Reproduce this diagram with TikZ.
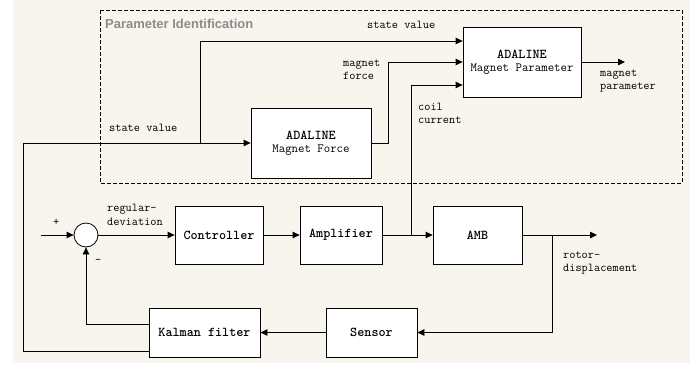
\documentclass[tikz,border=0pt]{standalone}
\usepackage{fontspec}
\newfontfamily\titlefont{Liberation Sans}
\usetikzlibrary{arrows.meta,calc}
\definecolor{bgpaper}{HTML}{F7F5EE}
\definecolor{titlegray}{HTML}{8C8C8C}
\newcommand{\bt}[1]{{\fontsize{13.5}{14}\selectfont\bfseries #1}}
\tikzset{
  blk/.style={draw, line width=0.8pt, fill=white, inner sep=0pt, align=center, font=\ttfamily\fontsize{12.5}{14}\selectfont},
  lbl/.style={inner sep=0pt, align=left, anchor=west, font=\ttfamily\fontsize{12}{13.5}\selectfont},
  wire/.style={line width=0.8pt},
  arr/.style={line width=0.8pt, -{Triangle[length=7pt,width=6.5pt]}},
}
\begin{document}
\begin{tikzpicture}[x=1pt,y=-1pt]
\useasboundingbox (0,0) rectangle (698,365);
\fill[bgpaper] (13,0) rectangle (690,363);
% dashed identification frame
\draw[line width=0.7pt, dash pattern=on 4pt off 2pt] (100,10) rectangle (682,183);
\node[inner sep=0pt, anchor=west, text=titlegray, font=\titlefont\bfseries\fontsize{13}{15}\selectfont] (ttl) at (105,24) {Parameter Identification};

% blocks
\node[blk, minimum width=120pt, minimum height=70pt] (mf) at (311,143) {\bt{ADALINE}\\[-1pt]Magnet Force};
\node[blk, minimum width=118pt, minimum height=70pt] (mp) at (522,62) {\bt{ADALINE}\\[-1pt]Magnet Parameter};
\node[blk, minimum width=88pt, minimum height=58pt] (ctrl) at (219,235) {\bt{Controller}};
\node[blk, minimum width=82pt, minimum height=58pt] (amp) at (341,235) {\bt{Amplifier}};
\node[blk, minimum width=89pt, minimum height=58pt] (amb) at (477.5,235) {\bt{AMB}};
\node[blk, minimum width=111pt, minimum height=49pt] (kal) at (204.5,332.5) {\bt{Kalman filter}};
\node[blk, minimum width=91pt, minimum height=49pt] (sen) at (371.5,332.5) {\bt{Sensor}};
\node[draw, circle, line width=0.8pt, fill=white, minimum size=24pt, inner sep=0pt] (sum) at (86,235) {};

% coordinates
\coordinate (in) at (41,235);
\coordinate (j1) at (411,235);
\coordinate (j2) at (552,235);
\coordinate (out) at (597,235);
\coordinate (mpout) at (625,62);
\coordinate (sv) at (200,143);

% forward path
\draw[arr] (in) -- (sum.west);
\draw[arr] (sum.east) -- (ctrl.west);
\draw[arr] (ctrl.east) -- (amp.west);
\draw[arr] (amp.east) -- (amb.west);
\draw[arr] (amb.east) -- (out);
\draw[arr] (j2) -- (552,332.5) -- (sen.east);
\draw[arr] (sen.west) -- (kal.east);
\draw[arr] (kal.west |- 0,324) -- (86,324) -- (sum.south);
% state value path
\draw[wire] (kal.west |- 0,351) -- (23,351) -- (23,143);
\draw[arr] (23,143) -- (mf.west);
\draw[arr] (sv) -- (200,41) -- (mp.west |- 0,41);
\draw[arr] (mf.east) -- (388,143) -- (388,62) -- (mp.west);
\draw[arr] (j1) -- (411,85) -- (mp.west |- 0,85);
\draw[arr] (mp.east) -- (mpout);

% labels
\node[lbl] (lsv1) at (367,25) {state value};
\node[lbl] (lmf) at (343,69.5) {magnet\\force};
\node[lbl] (lcc) at (418,113.5) {coil\\current};
\node[lbl] (lmp) at (600,81) {magnet\\parameter};
\node[lbl] (lsv2) at (109,128) {state value};
\node[lbl] (lrd) at (107,215) {regular-\\deviation};
\node[lbl] (lplus) at (53,222) {+};
\node[lbl] (lminus) at (95,261) {-};
\node[lbl] (lrot) at (563,263) {rotor-\\displacement};
\end{tikzpicture}
\end{document}
